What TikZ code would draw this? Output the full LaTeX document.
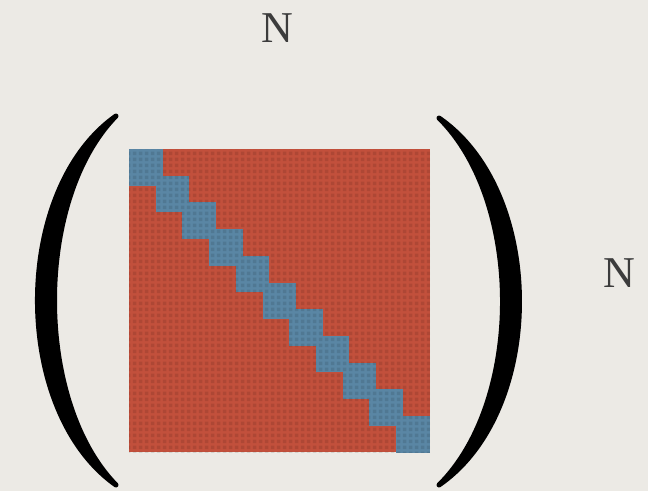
\documentclass[tikz,border=0pt]{standalone}
\usepackage{tikz}
\usetikzlibrary{patterns.meta}
\usepackage{xcolor}
\usepackage{fontspec}
\newfontfamily\labelfont{Liberation Serif}
\definecolor{paper}{RGB}{236, 234, 229}
\definecolor{matred}{RGB}{194, 80, 60}
\definecolor{matblue}{RGB}{90, 134, 164}
\definecolor{labelgray}{RGB}{60, 60, 60}

\tikzdeclarepattern{
  name=weave,
  type=uncolored,
  bounding box={(0pt,0pt) and (6pt,6pt)},
  tile size={(6pt,6pt)},
  code={\fill (1pt,1pt) rectangle (5pt,5pt);}
}

\begin{document}
\begin{tikzpicture}[x=1pt, y=-1pt]

  % --- Background ---
  \fill[paper] (0, 0) rectangle (648, 491);
  \useasboundingbox (0, 0) rectangle (648, 491);

  % --- Matrix body ---
  \fill[matred] (129, 149) rectangle (430, 452);

  % Diagonal blocks
  \foreach \i in {0,...,10} {
    \fill[matblue] (129 + 26.7*\i, 149 + 26.7*\i) rectangle ++(33.5, 36.5);
  }

  % Fabric texture
  \fill[pattern=weave, pattern color=black, opacity=0.1] (129, 149) rectangle (430, 452);

  % --- Parentheses ---
  \filldraw[black, line width=5pt, line join=round]
    (116, 116) .. controls (11.3, 190) and (11.3, 411) .. (116, 485)
    .. controls (34, 401) and (34, 200) .. cycle;
  \filldraw[black, line width=5pt, line join=round]
    (439, 118) .. controls (546.3, 192) and (546.3, 411) .. (439, 485)
    .. controls (523.7, 401) and (523.7, 202) .. cycle;

  % --- Dimension labels ---
  \node[labelgray, font=\labelfont\fontsize{44}{52}\selectfont] (ncols) at (277, 28) {N};
  \node[labelgray, font=\labelfont\fontsize{44}{52}\selectfont] (nrows) at (619, 273) {N};

\end{tikzpicture}
\end{document}
